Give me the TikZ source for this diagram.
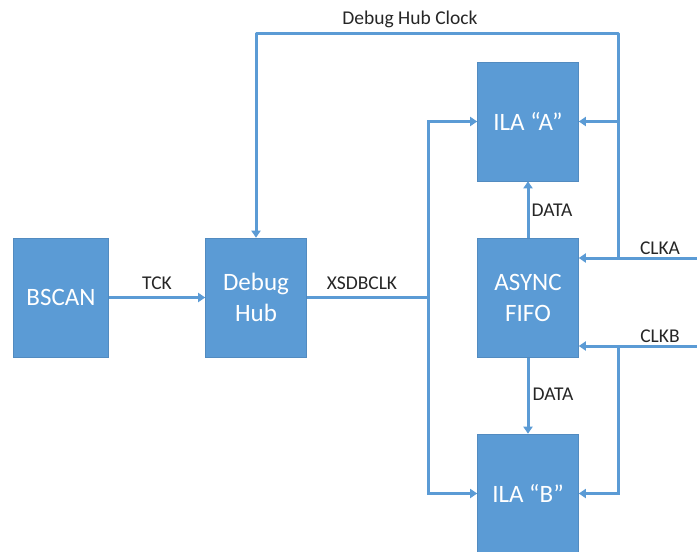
\documentclass[tikz,border=0pt]{standalone}
\usepackage{fontspec}
\setmainfont{Carlito}
\usetikzlibrary{arrows.meta}
\definecolor{boxblue}{HTML}{5B9BD5}
\definecolor{labelgray}{HTML}{262626}
\tikzset{
  blk/.style={fill=boxblue, draw=boxblue!90!black, line width=0.6pt, minimum width=101pt, minimum height=119pt, inner sep=0pt, text=white, font=\fontsize{25}{31}\selectfont, align=center},
  wire/.style={draw=boxblue, line width=3pt},
  arr/.style={wire, -{Triangle[length=7pt,width=9pt]}},
  lbl/.style={text=labelgray, font=\fontsize{19.5}{22}\selectfont, inner sep=0pt}
}
\begin{document}
\begin{tikzpicture}[x=1pt,y=-1pt]
\useasboundingbox (0,0) rectangle (697,552);
\node[blk, minimum width=95pt] (bscan) at (61,297.5) {BSCAN};
\node[blk] (hub) at (256,297.5) {Debug\\Hub};
\node[blk] (ilaA) at (528,121.5) {ILA “A”};
\node[blk] (fifo) at (528,298) {ASYNC\\FIFO};
\node[blk] (ilaB) at (528,493.5) {ILA “B”};

\coordinate (split) at (428,297.5);
\coordinate (splitA) at (428,121.5);
\coordinate (splitB) at (428,493.5);
\coordinate (clkTopR) at (618,33);
\coordinate (clkTopL) at (256,33);
\coordinate (clkA) at (618,121.5);
\coordinate (inA) at (697,258);
\coordinate (jA) at (618,258);
\coordinate (inB) at (697,346);
\coordinate (jB) at (618,346);
\coordinate (clkB) at (618,493.5);

% TCK
\draw[arr] (bscan.east) -- (hub.west);
\node[lbl] (tck) at (157,283) {TCK};
% XSDBCLK
\draw[wire] (hub.east) -- (split);
\node[lbl] (xsdb) at (362,283) {XSDBCLK};
\draw[arr] (split) -- (splitA) -- (ilaA.west);
\draw[arr] (split) -- (splitB) -- (ilaB.west);
% Debug Hub Clock
\draw[arr, line join=round] (jA) -- (clkTopR) -- (clkTopL) -- (hub.north);
\node[lbl] (dhc) at (410,19) {Debug Hub Clock};
\draw[arr] (clkA) -- (ilaA.east);
% CLKA
\draw[arr] (inA) -- (fifo.east |- inA);
\node[lbl] (clka) at (660,248) {CLKA};
% CLKB
\draw[arr] (inB) -- (fifo.east |- inB);
\node[lbl] (clkb) at (660,336) {CLKB};
\draw[arr] (jB) -- (clkB) -- (ilaB.east);
% DATA
\draw[arr] (fifo.north) -- (ilaA.south);
\node[lbl] (dataA) at (552,210) {DATA};
\draw[arr] (fifo.south) -- (ilaB.north);
\node[lbl] (dataB) at (553,394) {DATA};
\end{tikzpicture}
\end{document}
